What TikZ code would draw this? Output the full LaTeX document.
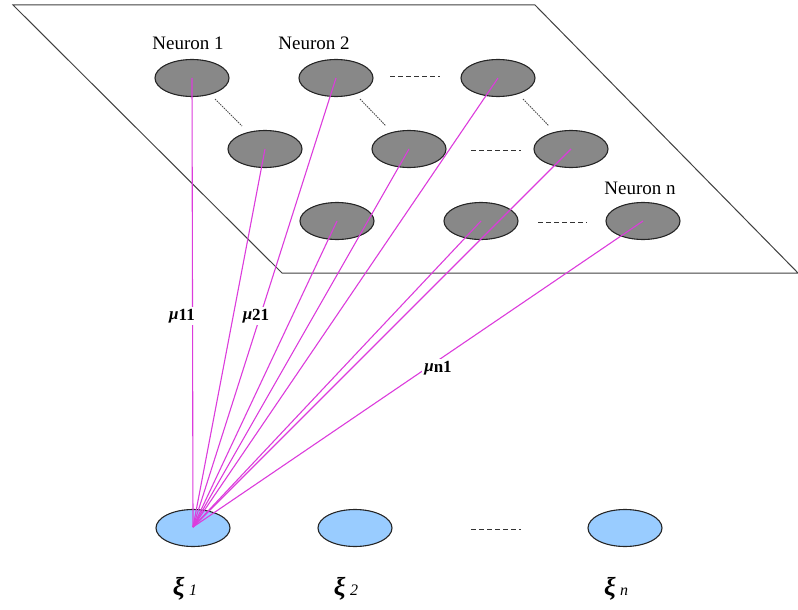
\documentclass[tikz,border=0pt]{standalone}
\usepackage{fontspec}
\setmainfont{Liberation Serif}
\usetikzlibrary{shapes.geometric}
\definecolor{neurongray}{RGB}{136,136,136}
\definecolor{inputblue}{RGB}{153,204,255}
\definecolor{linkpink}{RGB}{220,60,220}
\begin{document}
\begin{tikzpicture}[x=1pt,y=-1pt,
  neuron/.style={ellipse,draw=black!85,line width=1.1pt,fill=neurongray,minimum width=74pt,minimum height=37pt,inner sep=0pt},
  inputnode/.style={ellipse,draw=black!85,line width=1.1pt,fill=inputblue,minimum width=74pt,minimum height=37pt,inner sep=0pt},
  link/.style={linkpink,line width=1.1pt},
  gap/.style={black!80,line width=0.9pt,dash pattern=on 5pt off 3pt},
  tie/.style={black!70,line width=0.9pt,dash pattern=on 1.5pt off 1pt},
  title/.style={font=\fontsize{19}{19}\selectfont,inner sep=1pt},
  weight/.style={fill=white,inner sep=2pt,font=\fontsize{17}{17}\selectfont\bfseries},
  xilabel/.style={fill=white,inner sep=2pt,font=\fontsize{26}{26}\selectfont}]
\useasboundingbox (0,0) rectangle (798,610);

% map plane
\draw[black!75,line width=1pt] (13,5) -- (535,5) -- (798,273) -- (282,273) -- cycle;

% neurons of the map
\node[neuron] (n11) at (192,78) {};
\node[neuron] (n12) at (336,78) {};
\node[neuron] (n13) at (498,78) {};
\node[neuron] (n21) at (265,149) {};
\node[neuron] (n22) at (409,149) {};
\node[neuron] (n23) at (571,149) {};
\node[neuron] (n31) at (337,221) {};
\node[neuron] (n32) at (481,221) {};
\node[neuron] (n33) at (643,221) {};

\node[title] (t1) at (188,43) {Neuron 1};
\node[title] (t2) at (314,43) {Neuron 2};
\node[title] (tn) at (640,188) {Neuron n};

% ellipsis marks between neurons
\coordinate (d1a) at (390,76); \coordinate (d1b) at (440,76);
\coordinate (d2a) at (471,150); \coordinate (d2b) at (521,150);
\coordinate (d3a) at (538,222); \coordinate (d3b) at (587,222);
\draw[gap] (d1a) -- (d1b);
\draw[gap] (d2a) -- (d2b);
\draw[gap] (d3a) -- (d3b);
\coordinate (s1a) at (215,99); \coordinate (s1b) at (242,126);
\coordinate (s2a) at (360,99); \coordinate (s2b) at (386,126);
\coordinate (s3a) at (523,99); \coordinate (s3b) at (549,126);
\draw[tie] (s1a) -- (s1b);
\draw[tie] (s2a) -- (s2b);
\draw[tie] (s3a) -- (s3b);

% input layer
\node[inputnode] (x1) at (193,528) {};
\node[inputnode] (x2) at (355,528) {};
\node[inputnode] (xn) at (625,528) {};
\coordinate (d4a) at (471,529); \coordinate (d4b) at (521,529);
\draw[gap] (d4a) -- (d4b);

% weighted links from the first input
\coordinate (src) at (193,527);
\foreach \n in {n11,n12,n13,n21,n22,n23,n31,n32,n33}
  \draw[link] (src) -- (\n.center);

% weight labels
\node[weight] (w11) at (182,316) {\textit{μ}\raisebox{-1.5pt}{11}};
\node[weight] (w21) at (256,316) {\textit{μ}\raisebox{-1.5pt}{21}};
\node[weight] (wn1) at (438,368) {\textit{μ}\raisebox{-1.5pt}{n1}};

% input labels
\node[xilabel] (l1) at (185,589) {\textbf{\textit{ξ}}\,{\fontsize{16}{16}\selectfont\textit{1}}};
\node[xilabel] (l2) at (346,589) {\textbf{\textit{ξ}}\,{\fontsize{16}{16}\selectfont\textit{2}}};
\node[xilabel] (ln) at (616,589) {\textbf{\textit{ξ}}\,{\fontsize{16}{16}\selectfont\textit{n}}};
\end{tikzpicture}
\end{document}
